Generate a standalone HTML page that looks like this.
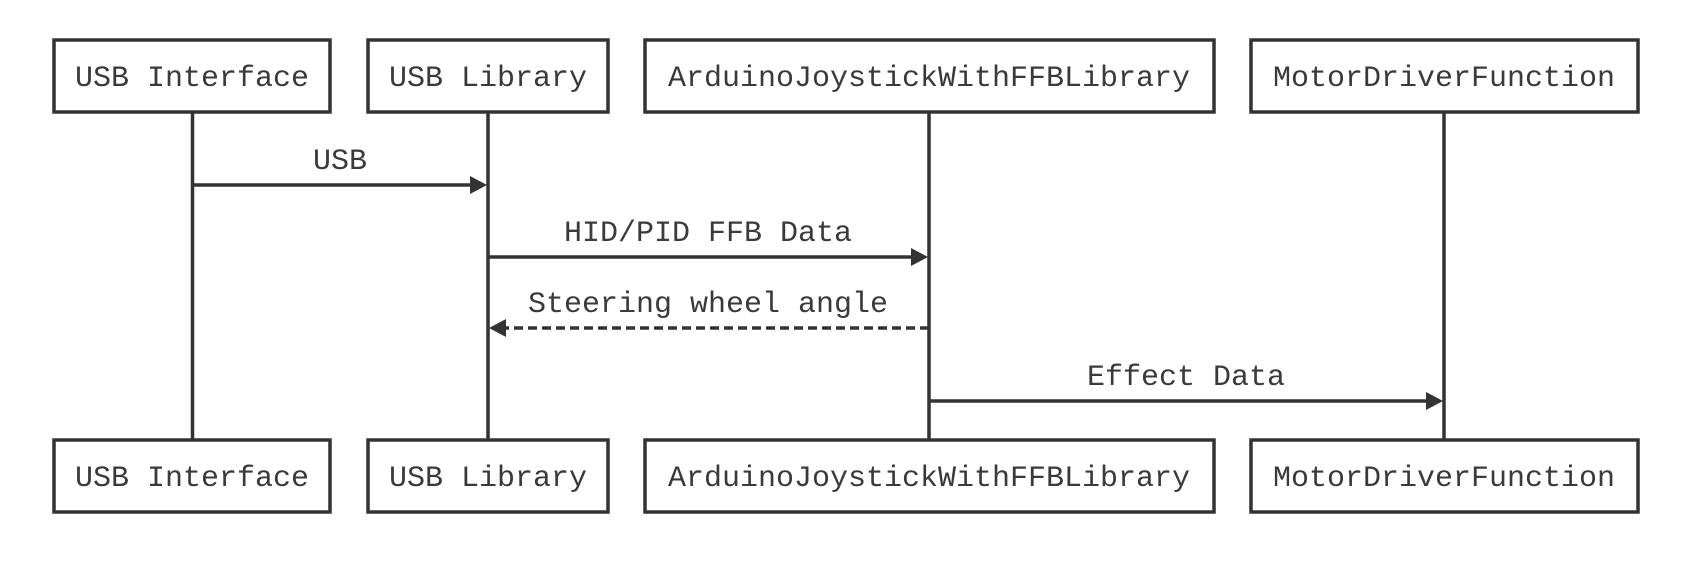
<!DOCTYPE html>
<html><head><meta charset="utf-8"><style>
html,body{margin:0;padding:0;background:#fff;}
svg{display:block;}
text{font-family:"Liberation Mono","Courier New",monospace;font-size:30px;fill:#3a3a3a;}
</style></head><body>
<svg width="1706" height="565" viewBox="0 0 1706 565" xmlns="http://www.w3.org/2000/svg">
<g stroke="#333" stroke-width="3.5" fill="none">
<line x1="192.5" y1="112" x2="192.5" y2="440"/>
<line x1="488" y1="112" x2="488" y2="440"/>
<line x1="929" y1="112" x2="929" y2="440"/>
<line x1="1444" y1="112" x2="1444" y2="440"/>
<rect x="54" y="40" width="276" height="72" fill="#fff"/>
<rect x="368" y="40" width="240" height="72" fill="#fff"/>
<rect x="645" y="40" width="569" height="72" fill="#fff"/>
<rect x="1251" y="40" width="387" height="72" fill="#fff"/>
<rect x="54" y="440" width="276" height="72" fill="#fff"/>
<rect x="368" y="440" width="240" height="72" fill="#fff"/>
<rect x="645" y="440" width="569" height="72" fill="#fff"/>
<rect x="1251" y="440" width="387" height="72" fill="#fff"/>
<line x1="192.5" y1="185" x2="472" y2="185"/>
<line x1="488" y1="257" x2="913" y2="257"/>
<line x1="929" y1="328" x2="504" y2="328" stroke-dasharray="9 5"/>
<line x1="929" y1="401" x2="1428" y2="401"/>
</g>
<g fill="#333">
<polygon points="487,185 470,176 470,194"/>
<polygon points="928,257 911,248 911,266"/>
<polygon points="489,328 506,319 506,337"/>
<polygon points="1443,401 1426,392 1426,410"/>
</g>
<g text-anchor="middle">
<text x="192" y="86">USB Interface</text>
<text x="488" y="86">USB Library</text>
<text x="929" y="86">ArduinoJoystickWithFFBLibrary</text>
<text x="1444" y="86">MotorDriverFunction</text>
<text x="192" y="486">USB Interface</text>
<text x="488" y="486">USB Library</text>
<text x="929" y="486">ArduinoJoystickWithFFBLibrary</text>
<text x="1444" y="486">MotorDriverFunction</text>
<text x="340" y="169">USB</text>
<text x="708" y="241">HID/PID FFB Data</text>
<text x="708" y="312">Steering wheel angle</text>
<text x="1186" y="385">Effect Data</text>
</g>
</svg>
</body></html>
